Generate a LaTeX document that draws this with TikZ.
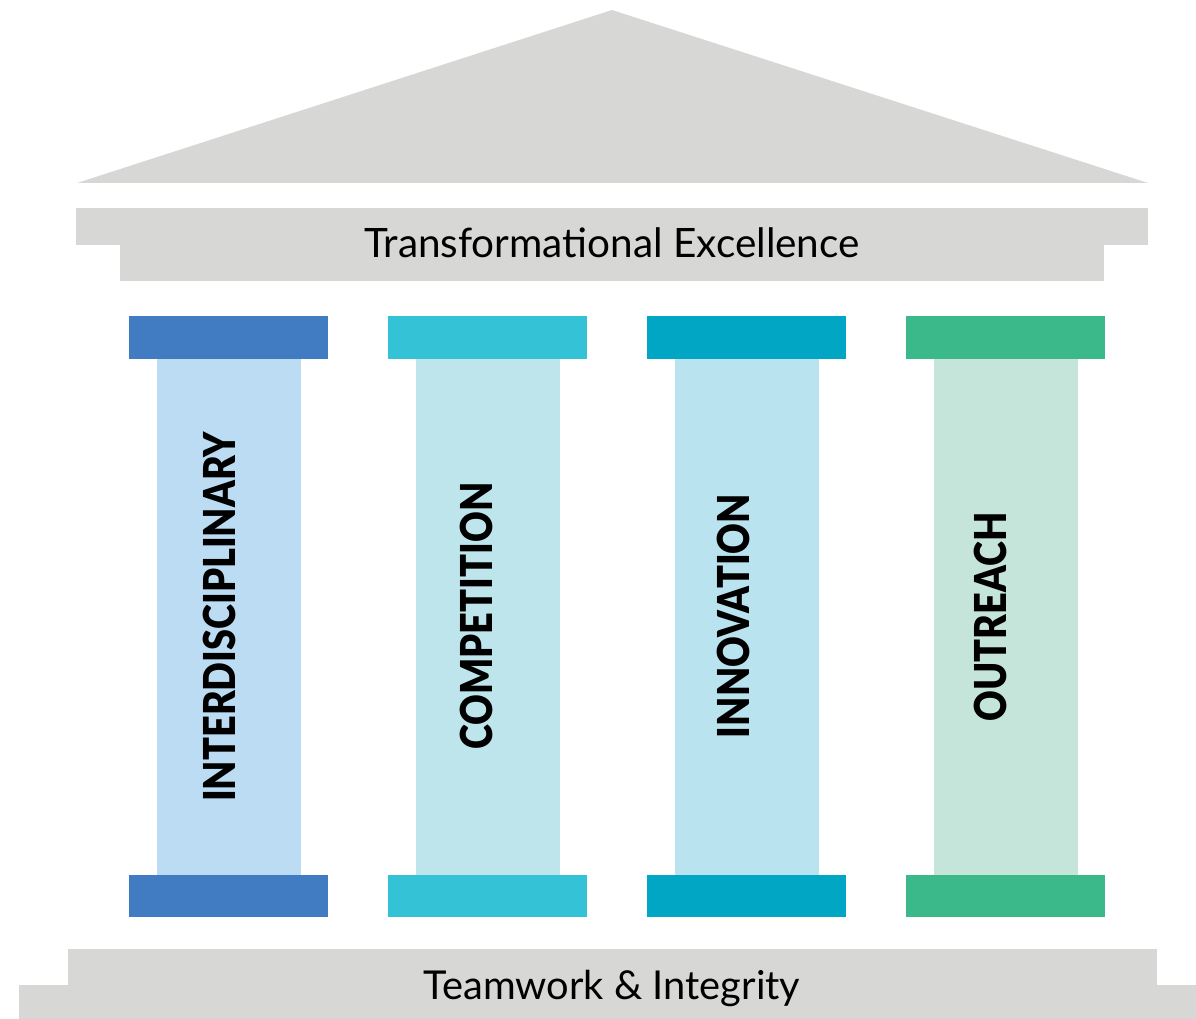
\documentclass[tikz,border=0pt]{standalone}
\usepackage{fontspec}
\setmainfont{Lato}
\newfontfamily\heavyfont{Lato}[UprightFont=* Black]
\definecolor{stone}{HTML}{D7D7D6}
\definecolor{capA}{HTML}{417BC1}\definecolor{shaftA}{HTML}{BBDCF3}
\definecolor{capB}{HTML}{34C2D7}\definecolor{shaftB}{HTML}{BEE5EC}
\definecolor{capC}{HTML}{01A6C5}\definecolor{shaftC}{HTML}{B9E3EE}
\definecolor{capD}{HTML}{3BB98A}\definecolor{shaftD}{HTML}{C5E5DA}
\tikzset{
  pillartext/.style={rotate=90, font=\fontsize{44}{44}\heavyfont, text=black, inner sep=0pt},
  bandtext/.style={font=\fontsize{40}{40}\selectfont, text=black, inner sep=0pt}
}
\newcommand{\pillar}[3]{% #1 left x of cap, #2 cap colour, #3 shaft colour
  \fill[#2] (#1,316) rectangle ++(199,43);
  \fill[#3] (#1+28,359) rectangle ++(144,516);
  \fill[#2] (#1,875) rectangle ++(199,42);
}
\newcommand{\squeeze}[1]{\scalebox{0.86}[1]{#1}}
\begin{document}
\begin{tikzpicture}[x=1pt,y=-1pt]
\useasboundingbox (0,0) rectangle (1196,1019);
% roof
\fill[stone] (612,10) -- (1148,183) -- (77,183) -- cycle;
% entablature
\fill[stone] (76,208) rectangle (1148,245);
\fill[stone] (120,245) rectangle (1104,281);
\node[bandtext] (top) at (612,243) {\fontsize{40.5}{40.5}\selectfont Transformational Excellence};
% pillars
\pillar{129}{capA}{shaftA}
\pillar{388}{capB}{shaftB}
\pillar{647}{capC}{shaftC}
\pillar{906}{capD}{shaftD}
\node[pillartext] (p1) at (219.5,617) {\squeeze{INTERDISCIPLINARY}};
\node[pillartext] (p2) at (476,616) {\squeeze{COMPETITION}};
\node[pillartext] (p3) at (733.5,616) {\squeeze{INNOVATION}};
\node[pillartext] (p4) at (990.5,617) {\squeeze{OUTREACH}};
% base
\fill[stone] (68,949) rectangle (1157,985);
\fill[stone] (19,985) rectangle (1196,1019);
\node[bandtext] (base) at (612,988) {\fontsize{39.8}{39.8}\selectfont Teamwork \& Integrity};
\end{tikzpicture}
\end{document}
